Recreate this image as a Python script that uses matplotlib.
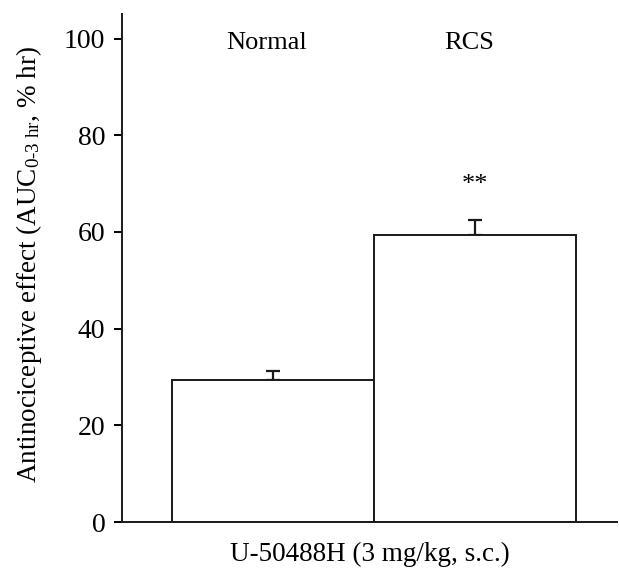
import matplotlib
matplotlib.use("Agg")
import matplotlib.pyplot as plt

groups = ["Normal", "RCS"]
values = [29.4, 59.4]
errors = [1.9, 3.1]
sig = ["", "**"]
yticks = [0, 20, 40, 60, 80, 100]

plt.rcParams['font.family'] = ['Liberation Serif', 'DejaVu Serif']
plt.rcParams['mathtext.fontset'] = 'custom'
plt.rcParams['mathtext.rm'] = 'Liberation Serif'
plt.rcParams['mathtext.it'] = 'Liberation Serif:italic'

fig = plt.figure(figsize=(6.19, 5.69), dpi=100)
ax = fig.add_axes([0.197, 0.0826, 0.8, 0.892])

x = list(range(len(groups)))
ax.bar(x, values, width=1.0, color='white', edgecolor='#1a1a1a', linewidth=1.4, zorder=2)
ax.errorbar(x, values, yerr=[[0]*len(errors), errors], fmt='none', ecolor='#1a1a1a',
            elinewidth=1.6, capsize=5, capthick=1.6, zorder=1)
for xi, v, e, s in zip(x, values, errors, sig):
    if s:
        ax.text(xi, v + e + 5.0, s, ha='center', va='bottom', fontsize=19)
for xi, g in zip(x, groups):
    ax.text(xi - 0.03, 96.8, g, ha='center', va='bottom', fontsize=19)

ax.set_xlim(-0.748, 1.703)
ax.set_ylim(0, 105)
ax.set_yticks(yticks)
ax.set_xticks([])
ax.spines['top'].set_visible(False)
ax.spines['right'].set_visible(False)
for sp in ['left', 'bottom']:
    ax.spines[sp].set_linewidth(1.4)
    ax.spines[sp].set_color('#1a1a1a')
ax.tick_params(axis='y', direction='out', length=6, width=1.4, labelsize=20, pad=6)
ax.set_ylabel(r'Antinociceptive effect (AUC$_{\text{0-3 hr}}$, % hr)', fontsize=19.5)
ax.yaxis.set_label_coords(-0.158, 0.508)
ax.set_xlabel('U-50488H (3 mg/kg, s.c.)', fontsize=19.5, labelpad=14)

fig.savefig('out.png', dpi=100)
